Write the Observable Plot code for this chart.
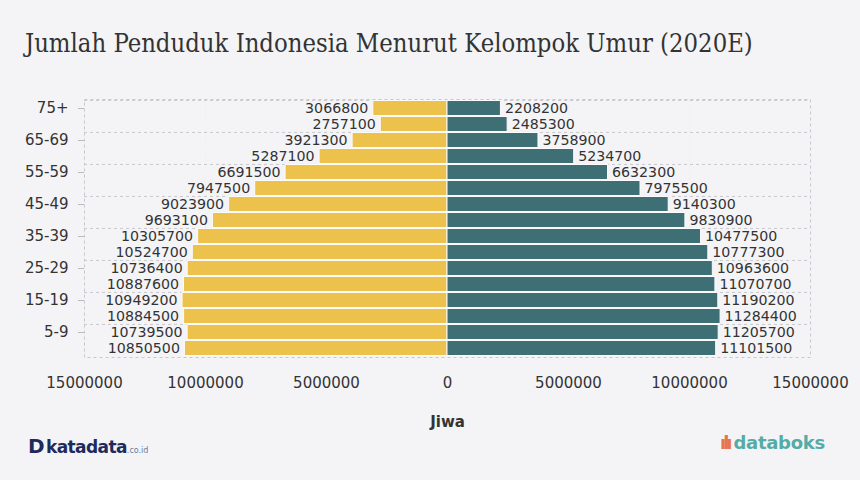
<!DOCTYPE html>
<html><head><meta charset="utf-8">
<script src="https://cdn.jsdelivr.net/npm/d3@7"></script>
<script src="https://cdn.jsdelivr.net/npm/@observablehq/plot@0.6"></script>
<style>
html,body{margin:0;padding:0;background:#f4f4f7;width:860px;height:480px;overflow:hidden;position:relative}
#title{position:absolute;left:25px;top:28px;font-family:"DejaVu Serif";font-stretch:condensed;font-size:25.4px;color:#333;white-space:nowrap;letter-spacing:0}
#chart{position:absolute;left:0;top:90px}
#kata{position:absolute;left:28px;top:434px;font-family:"DejaVu Sans";font-weight:bold;color:#1d2b5c;font-size:17px;letter-spacing:-0.6px;white-space:nowrap}
#kata b{font-size:20px;margin-right:2px}
#kata small{font-size:8px;font-weight:normal;color:#6b7a99;letter-spacing:0}
#databoks{position:absolute;left:720px;top:432px;font-family:"DejaVu Sans";font-weight:bold;color:#55aca6;font-size:18px;white-space:nowrap;letter-spacing:-0.3px}
#databoks span{color:#e8744a;font-weight:bold;letter-spacing:-3px;margin-right:4px}
</style></head>
<body>
<div id="title">Jumlah Penduduk Indonesia Menurut Kelompok Umur (2020E)</div>
<div id="chart"></div>
<div id="kata"><b>D</b>katadata<small>.co.id</small></div>
<div id="databoks"><span>ılı</span>databoks</div>
<script>
const ageGroups = ["75+","70-74","65-69","60-64","55-59","50-54","45-49","40-44","35-39","30-34","25-29","20-24","15-19","10-14","5-9","0-4"];
const leftValues = [3066800,2757100,3921300,5287100,6691500,7947500,9023900,9693100,10305700,10524700,10736400,10887600,10949200,10884500,10739500,10850500];
const rightValues = [2208200,2485300,3758900,5234700,6632300,7975500,9140300,9830900,10477500,10777300,10963600,11070700,11190200,11284400,11205700,11101500];
const ageTickLabels = ["75+","65-69","55-59","45-49","35-39","25-29","15-19","5-9"];
const xTicks = [-15000000,-10000000,-5000000,0,5000000,10000000,15000000];

const rows = ageGroups.map((age, i) => ({age, left: leftValues[i], right: rightValues[i]}));

const W = 860, H = 350, mT = 9, mB = 83, mL = 84, mR = 50;
const half = (H - mT - mB) / ageGroups.length / 2;
const gridStyle = {stroke: "#c8c8cc", strokeDasharray: "3,3", strokeWidth: 1};

const chart = Plot.plot({
  width: W, height: H,
  marginTop: mT, marginBottom: mB, marginLeft: mL, marginRight: mR,
  style: {background: "transparent", fontFamily: "DejaVu Sans", fontSize: "15px", color: "#333"},
  x: {domain: [-15000000, 15000000]},
  y: {domain: ageGroups, padding: 0},
  marks: [
    Plot.gridX(xTicks, gridStyle),
    Plot.frame(gridStyle),
    Plot.ruleY(ageTickLabels, {y: d => d, dy: -half, ...gridStyle}),
    Plot.barX(rows, {x1: 0, x2: d => -d.left, y: "age", fill: "#edc24c", stroke: "#fbfbfd", strokeWidth: 1, insetTop: 0.5, insetBottom: 0.5}),
    Plot.barX(rows, {x1: 0, x2: "right", y: "age", fill: "#3d6f75", stroke: "#fbfbfd", strokeWidth: 1, insetTop: 0.5, insetBottom: 0.5}),
    Plot.text(rows, {x: d => -d.left, y: "age", text: d => String(d.left), textAnchor: "end", dx: -5, fill: "#333", fontSize: 14.2}),
    Plot.text(rows, {x: "right", y: "age", text: d => String(d.right), textAnchor: "start", dx: 4, fill: "#333", fontSize: 14.2}),
    Plot.axisY({ticks: ageTickLabels, tickSize: 6, tickPadding: 10, stroke: "#bbb", label: null, fill: "#333", fontSize: 15}),
    Plot.axisX({ticks: xTicks, tickFormat: d => String(Math.abs(d)), tickSize: 0, tickPadding: 20, fill: "#333", fontSize: 15,
      label: "Jiwa", labelAnchor: "center", labelArrow: "none", labelOffset: 69, fontWeight: "bold"}),
  ]
});
// make only the axis title bold, not tick labels
chart.querySelectorAll('[aria-label="x-axis tick label"] text').forEach(t => t.setAttribute("font-weight", "normal"));
document.getElementById("chart").appendChild(chart);
</script>
</body></html>
